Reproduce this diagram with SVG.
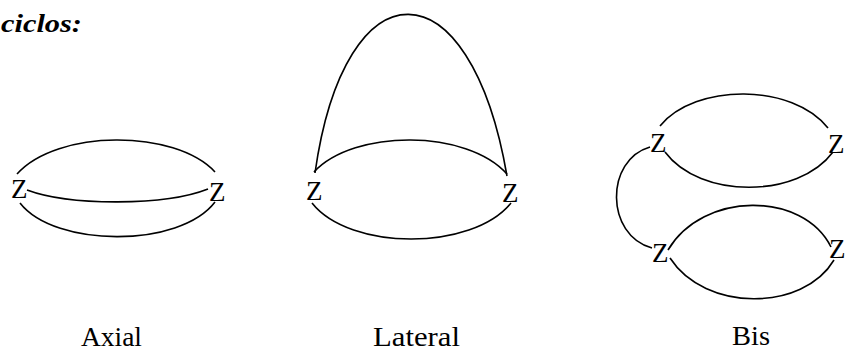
<svg xmlns="http://www.w3.org/2000/svg" width="846" height="352" viewBox="0 0 846 352">
<style>
text{font-family:"Liberation Serif","DejaVu Serif",serif;fill:#000}
.z{font-size:27px}
.lbl{font-size:27px}
.title{font-size:26px;font-weight:bold;font-style:italic}
#edges path{fill:none;stroke:#000;stroke-width:1.6}
</style>
<rect width="846" height="352" fill="#fff"/>
<text class="title" x="1" y="32" textLength="81" lengthAdjust="spacingAndGlyphs">ciclos:</text>
<g id="edges">
<path d="M17,174 C57,129 175,129 215,172"/>
<path d="M27,190 C70,206 165,206 208,189"/>
<path d="M20,203 C55,248 180,248 215,202"/>
<path d="M315,173 C345,-39 470,-39 507,176"/>
<path d="M314,172 C354,129 467,129 507,174"/>
<path d="M312,203 C350,251 472,251 511,203"/>
<path d="M660,126 C695,83 793,83 828,128"/>
<path d="M665,152 C700,199 798,199 833,152"/>
<path d="M668,250 C703,191 803,191 831,247"/>
<path d="M670,258 C705,312 803,312 834,260"/>
<path d="M650,147 C605,160 605,235 652,248"/>
</g>
<g id="axial-left"><text class="z" x="11" y="198">Z</text></g>
<g id="axial-right"><text class="z" x="209" y="201">Z</text></g>
<g id="lateral-left"><text class="z" x="306" y="200">Z</text></g>
<g id="lateral-right"><text class="z" x="502" y="202">Z</text></g>
<g id="bis-tl"><text class="z" x="650" y="152">Z</text></g>
<g id="bis-tr"><text class="z" x="828" y="153">Z</text></g>
<g id="bis-bl"><text class="z" x="652" y="262">Z</text></g>
<g id="bis-br"><text class="z" x="829" y="258">Z</text></g>
<g id="labels">
<text class="lbl" x="81" y="346" textLength="61" lengthAdjust="spacingAndGlyphs">Axial</text>
<text class="lbl" x="373" y="346" textLength="87" lengthAdjust="spacingAndGlyphs">Lateral</text>
<text class="lbl" x="732" y="345" textLength="38" lengthAdjust="spacingAndGlyphs">Bis</text>
</g>
</svg>
